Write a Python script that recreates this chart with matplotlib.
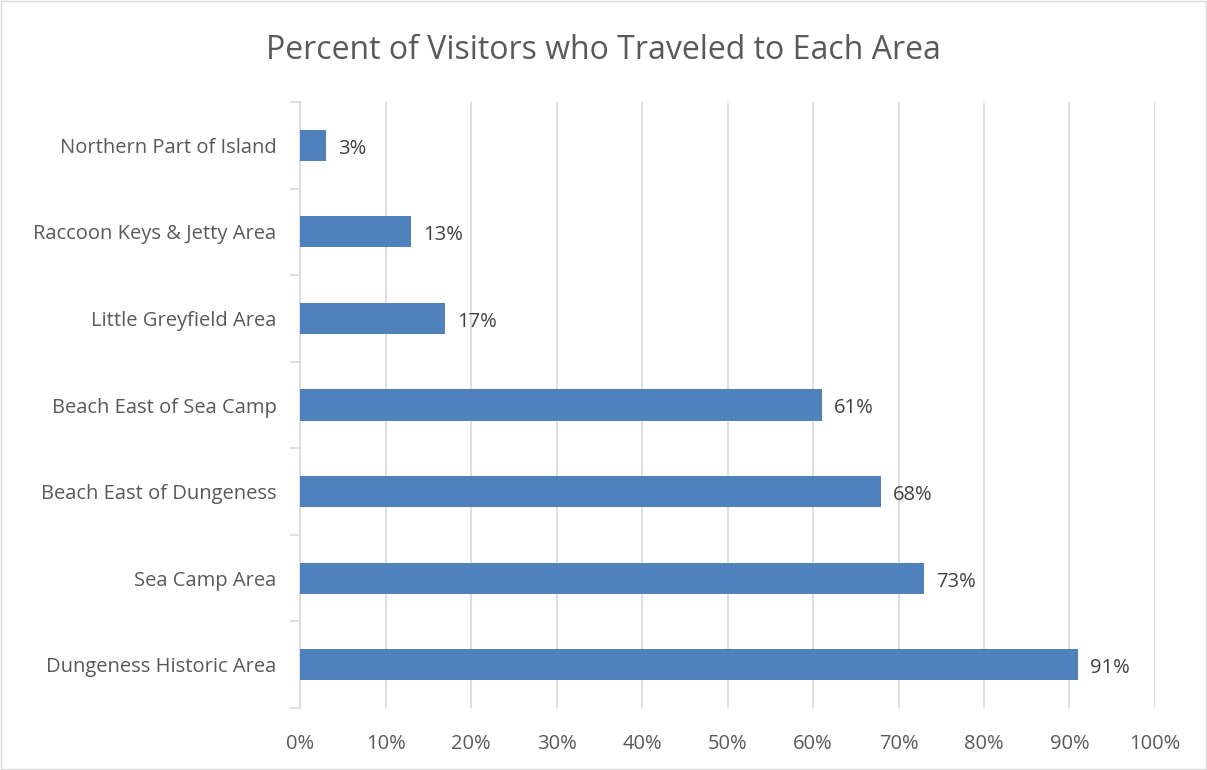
import matplotlib
matplotlib.use("Agg")
from matplotlib import pyplot as plt
from matplotlib.ticker import FixedLocator

# Data
areas = ["Dungeness Historic Area", "Sea Camp Area", "Beach East of Dungeness",
         "Beach East of Sea Camp", "Little Greyfield Area",
         "Raccoon Keys & Jetty Area", "Northern Part of Island"]
percents = [91, 73, 68, 61, 17, 13, 3]
x_ticks = [0, 10, 20, 30, 40, 50, 60, 70, 80, 90, 100]

plt.rcParams['font.family'] = ['Open Sans', 'DejaVu Sans']

fig = plt.figure(figsize=(12.07, 7.7), dpi=100)
ax = fig.add_axes([0.2486, 0.0805, 0.7083, 0.787])

pos = list(range(len(areas)))
ax.barh(pos, percents, height=0.36, color="#4f81bd", zorder=3)

# data labels
for y, v in zip(pos, percents):
    ax.text(v + 1.4, y - 0.04, f"{v}%", va="center", ha="left", fontsize=14.5, color="#404040")

ax.set_xlim(0, 100)
ax.set_ylim(-0.5, len(areas) - 0.5)
ax.set_xticks(x_ticks)
ax.set_xticklabels([f"{t}%" for t in x_ticks], fontsize=14.5, color="#595959")
ax.set_yticks(pos)
ax.set_yticklabels(areas, fontsize=14.5, color="#595959")
ax.tick_params(axis="y", length=0, pad=17)
ax.tick_params(axis="x", length=0, pad=19)

# minor ticks at category boundaries on the left axis
ax.yaxis.set_minor_locator(FixedLocator([p - 0.5 for p in pos] + [len(areas) - 0.5]))
ax.tick_params(axis="y", which="minor", length=7, color="#d9d9d9", width=1.2)

ax.grid(axis="x", color="#d9d9d9", linewidth=1.2, zorder=0)
for side in ["top", "right", "bottom"]:
    ax.spines[side].set_visible(False)
ax.spines["left"].set_color("#d9d9d9")
ax.spines["left"].set_linewidth(1.2)

fig.text(0.5, 0.935, "Percent of Visitors who Traveled to Each Area",
         ha="center", va="center", fontsize=23, color="#595959")

# outer border
border = plt.Rectangle((0.001, 0.001), 0.998, 0.998, transform=fig.transFigure,
                       fill=False, edgecolor="#d9d9d9", linewidth=1)
fig.patches.append(border)

fig.savefig("out.png", dpi=100)
